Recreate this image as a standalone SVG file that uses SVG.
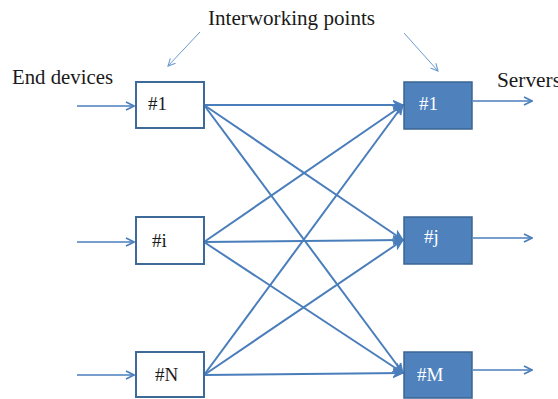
<svg xmlns="http://www.w3.org/2000/svg" width="558" height="399" viewBox="0 0 558 399">
<style>
.lbl{font-family:"Liberation Serif","Times New Roman",serif;font-size:20px;fill:#1a1a1a}
.wl{font-family:"Liberation Serif","Times New Roman",serif;font-size:19px;fill:#ffffff}
.bl{font-family:"Liberation Serif","Times New Roman",serif;font-size:19px;fill:#1a1a1a}
.lbox{fill:#ffffff;stroke:#3d6a99;stroke-width:2}
.rbox{fill:#4f81bd;stroke:#3a6593;stroke-width:1.5}
.c{stroke:#4a7ebb;stroke-width:2;fill:none}
.io{stroke:#4a7ebb;stroke-width:1.6;fill:none}
.p{stroke:#6d9bd0;stroke-width:1;fill:none}
</style>
<defs>
<marker id="ah" viewBox="0 0 10 10" refX="9" refY="5" markerWidth="10" markerHeight="10" markerUnits="userSpaceOnUse" orient="auto">
<path d="M1,1 L9,5 L1,9" fill="none" stroke="#4a7ebb" stroke-width="1.6"/>
</marker>
<marker id="af" viewBox="0 0 10 10" refX="9" refY="5" markerWidth="11" markerHeight="11" markerUnits="userSpaceOnUse" orient="auto">
<path d="M0,1 L9,5 L0,9 L3,5 Z" fill="#4a7ebb" stroke="#4a7ebb" stroke-width="1"/>
</marker>
<marker id="ap" viewBox="0 0 10 10" refX="9" refY="5" markerWidth="9" markerHeight="9" markerUnits="userSpaceOnUse" orient="auto">
<path d="M1,1 L9,5 L1,9" fill="none" stroke="#6d9bd0" stroke-width="1.2"/>
</marker>
</defs>
<text class="lbl" x="208" y="25" textLength="167" lengthAdjust="spacingAndGlyphs">Interworking points</text>
<text class="lbl" x="12" y="84" textLength="101" lengthAdjust="spacingAndGlyphs">End devices</text>
<text class="lbl" x="497" y="87" textLength="64" lengthAdjust="spacingAndGlyphs">Servers</text>
<g id="connectors">
<line class="p" x1="200" y1="32" x2="168" y2="66" marker-end="url(#ap)"/>
<line class="p" x1="404" y1="33" x2="438" y2="71" marker-end="url(#ap)"/>
<line class="io" x1="77" y1="106" x2="134" y2="106" marker-end="url(#ah)"/>
<line class="io" x1="77" y1="242" x2="134" y2="242" marker-end="url(#ah)"/>
<line class="io" x1="77" y1="375" x2="134" y2="375" marker-end="url(#ah)"/>
<line class="io" x1="473" y1="101" x2="532" y2="101" marker-end="url(#ah)"/>
<line class="io" x1="473" y1="238" x2="532" y2="238" marker-end="url(#ah)"/>
<line class="io" x1="473" y1="370" x2="532" y2="370" marker-end="url(#ah)"/>
<line class="c" x1="204" y1="105" x2="403" y2="105" marker-end="url(#af)"/>
<line class="c" x1="204" y1="105" x2="403" y2="240" marker-end="url(#af)"/>
<line class="c" x1="204" y1="105" x2="403" y2="373" marker-end="url(#af)"/>
<line class="c" x1="204" y1="242" x2="403" y2="105" marker-end="url(#af)"/>
<line class="c" x1="204" y1="242" x2="403" y2="240" marker-end="url(#af)"/>
<line class="c" x1="204" y1="242" x2="403" y2="373" marker-end="url(#af)"/>
<line class="c" x1="204" y1="375" x2="403" y2="105" marker-end="url(#af)"/>
<line class="c" x1="204" y1="375" x2="403" y2="240" marker-end="url(#af)"/>
<line class="c" x1="204" y1="375" x2="403" y2="373" marker-end="url(#af)"/>
</g>
<g id="in1"><rect class="lbox" x="136" y="82" width="68" height="46"/><text class="bl" x="148" y="110">#1</text></g>
<g id="ini"><rect class="lbox" x="136" y="217" width="68" height="47"/><text class="bl" x="152" y="247">#i</text></g>
<g id="inN"><rect class="lbox" x="136" y="352" width="68" height="45"/><text class="bl" x="155" y="381">#N</text></g>
<g id="out1"><rect class="rbox" x="404" y="82" width="68" height="47"/><text class="wl" x="419" y="110">#1</text></g>
<g id="outj"><rect class="rbox" x="404" y="217" width="68" height="47"/><text class="wl" x="424" y="243">#j</text></g>
<g id="outM"><rect class="rbox" x="404" y="352" width="68" height="46"/><text class="wl" x="417" y="381">#M</text></g>
</svg>
